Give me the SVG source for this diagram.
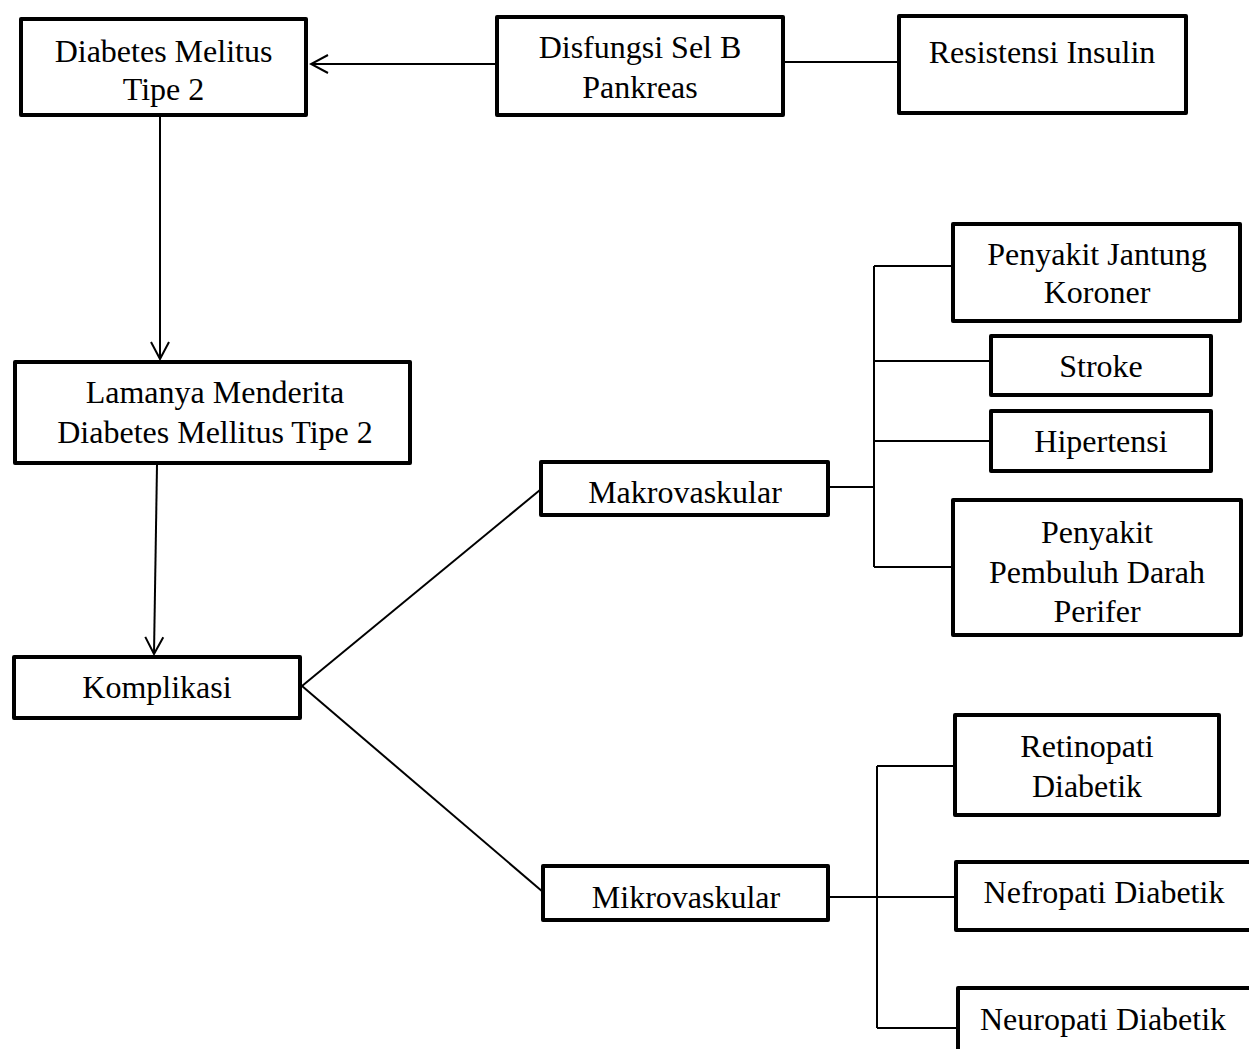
<svg xmlns="http://www.w3.org/2000/svg" width="1249" height="1049" viewBox="0 0 1249 1049">
<style>
.box{fill:#fff;stroke:#000;stroke-width:4;stroke-linejoin:round}
.lbl{font-family:"Liberation Serif","Times New Roman",serif;font-size:32px;fill:#000;text-anchor:middle}
.con{fill:none;stroke:#000;stroke-width:2}
</style>
<defs>
<marker id="arr" viewBox="-19 -11 21 22" markerWidth="21" markerHeight="22" refX="0" refY="0" markerUnits="userSpaceOnUse" orient="auto">
<path d="M-17,-9 L0,0 L-17,9" fill="none" stroke="#000" stroke-width="2"/>
</marker>
</defs>
<rect width="1249" height="1049" fill="#fff"/>
<g id="connectors">
<line class="con" x1="495" y1="64" x2="311" y2="64" marker-end="url(#arr)"/>
<line class="con" x1="785" y1="62" x2="897" y2="62"/>
<line class="con" x1="160" y1="117" x2="160" y2="359" marker-end="url(#arr)"/>
<line class="con" x1="157" y1="465" x2="154" y2="654" marker-end="url(#arr)"/>
<line class="con" x1="302" y1="686" x2="540" y2="490"/>
<line class="con" x1="302" y1="686" x2="543" y2="892"/>
<line class="con" x1="830" y1="487" x2="874" y2="487"/>
<line class="con" x1="874" y1="266" x2="874" y2="567"/>
<line class="con" x1="874" y1="266" x2="953" y2="266"/>
<line class="con" x1="874" y1="361" x2="991" y2="361"/>
<line class="con" x1="874" y1="441" x2="991" y2="441"/>
<line class="con" x1="874" y1="567" x2="953" y2="567"/>
<line class="con" x1="830" y1="897" x2="956" y2="897"/>
<line class="con" x1="877" y1="766" x2="877" y2="1028"/>
<line class="con" x1="877" y1="766" x2="955" y2="766"/>
<line class="con" x1="877" y1="1028" x2="958" y2="1028"/>
</g>
<g id="n1"><rect class="box" x="21" y="19" width="285" height="96"/><text class="lbl" x="163.5" y="62">Diabetes Melitus</text><text class="lbl" x="163.5" y="100">Tipe 2</text></g>
<g id="n2"><rect class="box" x="497" y="17" width="286" height="98"/><text class="lbl" x="640" y="58">Disfungsi Sel B</text><text class="lbl" x="640" y="98">Pankreas</text></g>
<g id="n3"><rect class="box" x="899" y="16" width="287" height="97"/><text class="lbl" x="1042" y="63">Resistensi Insulin</text></g>
<g id="n4"><rect class="box" x="15" y="362" width="395" height="101"/><text class="lbl" x="215" y="403">Lamanya Menderita</text><text class="lbl" x="215" y="443">Diabetes Mellitus Tipe 2</text></g>
<g id="n5"><rect class="box" x="14" y="657" width="286" height="61"/><text class="lbl" x="157" y="698">Komplikasi</text></g>
<g id="n6"><rect class="box" x="541" y="462" width="287" height="53"/><text class="lbl" x="685" y="503">Makrovaskular</text></g>
<g id="n7"><rect class="box" x="543" y="866" width="285" height="54"/><text class="lbl" x="686" y="908">Mikrovaskular</text></g>
<g id="n8"><rect class="box" x="953" y="224" width="287" height="97"/><text class="lbl" x="1097" y="265">Penyakit Jantung</text><text class="lbl" x="1097" y="303">Koroner</text></g>
<g id="n9"><rect class="box" x="991" y="336" width="220" height="59"/><text class="lbl" x="1101" y="377">Stroke</text></g>
<g id="n10"><rect class="box" x="991" y="411" width="220" height="60"/><text class="lbl" x="1101" y="452">Hipertensi</text></g>
<g id="n11"><rect class="box" x="953" y="500" width="288" height="135"/><text class="lbl" x="1097" y="543">Penyakit</text><text class="lbl" x="1097" y="583">Pembuluh Darah</text><text class="lbl" x="1097" y="622">Perifer</text></g>
<g id="n12"><rect class="box" x="955" y="715" width="264" height="100"/><text class="lbl" x="1087" y="757">Retinopati</text><text class="lbl" x="1087" y="797">Diabetik</text></g>
<g id="n13"><rect class="box" x="956" y="862" width="310" height="68"/><text class="lbl" x="1104" y="903">Nefropati Diabetik</text></g>
<g id="n14"><rect class="box" x="958" y="988" width="310" height="80"/><text class="lbl" x="1103" y="1030">Neuropati Diabetik</text></g>
</svg>
